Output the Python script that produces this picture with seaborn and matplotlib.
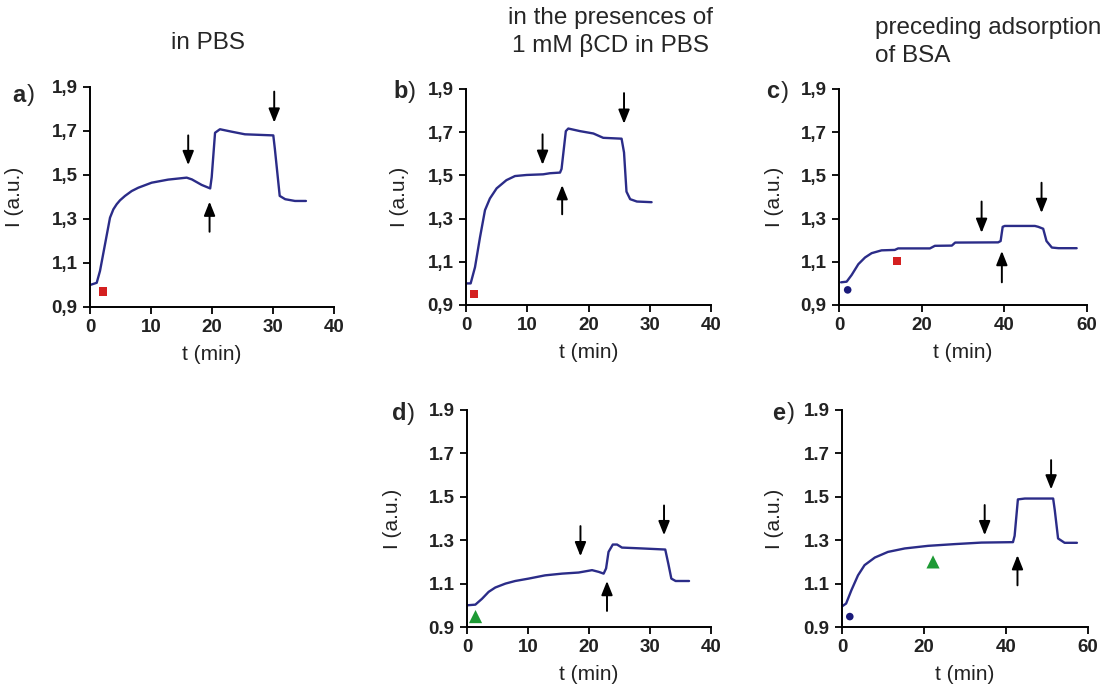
import matplotlib
matplotlib.use("Agg")
import matplotlib.pyplot as plt
from matplotlib.ticker import FuncFormatter
import numpy as np
import pandas as pd
import seaborn as sns

# ---- intensity traces I(t) ----
a_t = [0, 1.1, 1.64, 2.46, 3.28, 3.83, 4.37, 4.92, 5.74, 6.83, 7.9, 10.1, 12.8, 15.85, 16.7, 18.3,
       19.7, 19.95, 20.5, 21.3, 23.2, 25.4, 30.05, 30.3, 31.1, 32.0, 33.6, 35.4]
a_I = [1.0, 1.01, 1.064, 1.185, 1.306, 1.344, 1.367, 1.385, 1.405, 1.427, 1.442, 1.465, 1.479, 1.488,
       1.48, 1.455, 1.439, 1.49, 1.692, 1.708, 1.697, 1.685, 1.68, 1.62, 1.405, 1.39, 1.382, 1.382]

b_t = [0, 0.76, 1.47, 2.29, 3.1, 3.9, 5.0, 6.6, 8.0, 9.9, 12.6, 13.7, 15.35,
       15.6, 16.3, 16.7, 18.6, 20.8, 22.4, 25.4, 25.8, 26.2, 26.8, 27.9, 30.3]
b_I = [1.0, 1.0, 1.075, 1.214, 1.339, 1.393, 1.44, 1.478, 1.497, 1.502, 1.505, 1.51, 1.513,
       1.53, 1.705, 1.717, 1.705, 1.694, 1.674, 1.67, 1.606, 1.425, 1.39, 1.379, 1.376]

c_t = [0.5, 1.85, 3.06, 4.68, 6.3, 7.9, 10.3, 13.5, 14.3, 18.4, 22.0, 23.2, 27.3, 28.1,
       38.5, 39.1, 39.6, 40.1, 47.4, 48.2, 49.4, 50.2, 51.5, 53.1, 57.5]
c_I = [1.005, 1.008, 1.039, 1.089, 1.12, 1.14, 1.153, 1.155, 1.162, 1.162, 1.162, 1.174, 1.175, 1.189,
       1.19, 1.196, 1.262, 1.266, 1.266, 1.262, 1.253, 1.196, 1.166, 1.163, 1.163]

d_t = [0, 1.37, 2.46, 3.55, 4.64, 6.3, 7.9, 10.1, 12.8, 15.6, 18.3, 20.5, 21.6, 22.4,
       22.8, 23.2, 23.9, 24.6, 25.4, 28.7, 32.5, 33.0, 33.5, 34.2, 36.4]
d_I = [1.0, 1.003, 1.03, 1.062, 1.082, 1.1, 1.112, 1.123, 1.138, 1.146, 1.151, 1.162, 1.154, 1.146,
       1.17, 1.246, 1.28, 1.28, 1.266, 1.262, 1.257, 1.192, 1.123, 1.112, 1.112]

e_t = [0, 1.0, 2.28, 3.9, 5.5, 8.0, 11.2, 15.3, 21.0, 27.5, 34.0, 41.7,
       42.1, 42.9, 44.6, 51.5, 51.9, 52.7, 54.3, 57.3]
e_I = [0.995, 1.008, 1.069, 1.138, 1.185, 1.22, 1.246, 1.262, 1.274, 1.282, 1.289, 1.291,
       1.32, 1.488, 1.492, 1.492, 1.438, 1.308, 1.288, 1.288]

# ---- symbols (t, I) ----
square_pts = {"a": [(2.1, 0.97)], "b": [(1.3, 0.95)], "c": [(14.1, 1.105)]}
circle_pts = {"c": [(2.1, 0.97)], "e": [(1.9, 0.948)]}
triangle_pts = {"d": [(1.4, 0.948)], "e": [(22.2, 1.2)]}

# ---- arrows: (t, tail I, head I) ----
arrows = {
    "a": [(16.1, 1.68, 1.545), (19.6, 1.242, 1.379), (30.2, 1.879, 1.738)],
    "b": [(12.5, 1.69, 1.549), (15.7, 1.32, 1.455), (25.8, 1.881, 1.739)],
    "c": [(34.5, 1.379, 1.234), (39.4, 1.005, 1.15), (49.0, 1.466, 1.326)],
    "d": [(18.6, 1.365, 1.226), (22.95, 0.974, 1.112), (32.3, 1.46, 1.323)],
    "e": [(34.8, 1.462, 1.323), (42.8, 1.092, 1.231), (51.0, 1.669, 1.534)],
}

traces = {"a": (a_t, a_I), "b": (b_t, b_I), "c": (c_t, c_I), "d": (d_t, d_I), "e": (e_t, e_I)}
x_ranges = {"a": 40, "b": 40, "c": 60, "d": 40, "e": 60}
comma_decimal = {"a": True, "b": True, "c": True, "d": False, "e": False}
yticks = [0.9, 1.1, 1.3, 1.5, 1.7, 1.9]

sns.set_style("ticks")
plt.rcParams["font.family"] = ["Liberation Sans", "DejaVu Sans"]

W, H = 1107, 692
fig = plt.figure(figsize=(W / 100, H / 100), dpi=100)

# axes boxes in pixels: left, top, right, bottom
boxes = {
    "a": (90, 87, 334, 307),
    "b": (466, 89, 711, 305),
    "c": (839, 89, 1087, 305),
    "d": (467, 410, 711, 627),
    "e": (842, 410, 1088, 627),
}
ylabel_x = {"a": 24, "b": 409, "c": 784, "d": 402, "e": 784}
panel_xy = {"a": (12, 95), "b": (393, 92), "c": (766, 92), "d": (392, 414), "e": (772, 413)}

line_color = "#2B2C88"

for key, (l, t, r, b) in boxes.items():
    ax = fig.add_axes([l / W, 1 - b / H, (r - l) / W, (b - t) / H])
    tt, ii = traces[key]
    df = pd.DataFrame({"t": tt, "I": ii})
    sns.lineplot(data=df, x="t", y="I", ax=ax, color=line_color, lw=1.7, sort=False,
                 estimator=None)
    for (x, y) in square_pts.get(key, []):
        sns.scatterplot(x=[x], y=[y], ax=ax, marker="s", s=36, color="#D42020",
                        edgecolor="none", zorder=5)
    for (x, y) in circle_pts.get(key, []):
        sns.scatterplot(x=[x], y=[y], ax=ax, marker="o", s=30, color="#1A1A7A",
                        edgecolor="none", zorder=5)
    for (x, y) in triangle_pts.get(key, []):
        sns.scatterplot(x=[x], y=[y], ax=ax, marker="^", s=90, color="#1E9A35",
                        edgecolor="none", zorder=5)
    for (x, y0, y1) in arrows[key]:
        ax.annotate("", xy=(x, y1), xytext=(x, y0),
                    arrowprops=dict(arrowstyle="-|>,head_length=0.7,head_width=0.28",
                                    color="black", lw=1.4, shrinkA=0, shrinkB=0,
                                    mutation_scale=12))
    xmax = x_ranges[key]
    ax.set_xlim(0, xmax)
    ax.set_ylim(0.9, 1.9)
    ax.set_xticks(np.arange(0, xmax + 1, 10 if xmax == 40 else 20))
    ax.set_yticks(yticks)
    if comma_decimal[key]:
        ax.yaxis.set_major_formatter(FuncFormatter(lambda v, p: f"{v:.1f}".replace(".", ",")))
    else:
        ax.yaxis.set_major_formatter(FuncFormatter(lambda v, p: f"{v:.1f}"))
    for lab in ax.get_xticklabels() + ax.get_yticklabels():
        lab.set_fontweight("bold")
        lab.set_fontsize(13.5)
        lab.set_color("#222222")
    ax.tick_params(direction="out", length=5, width=1.3, color="black", pad=4)
    for s in ("left", "bottom"):
        ax.spines[s].set_linewidth(1.4)
        ax.spines[s].set_color("black")
    sns.despine(ax=ax)
    ax.set_xlabel("t (min)", fontsize=15, color="#222222")
    ax.set_ylabel("I (a.u.)", fontsize=15, color="#222222")
    ax.xaxis.set_label_coords(0.5, -0.175)
    ax.yaxis.set_label_coords((ylabel_x[key] - l) / (r - l), 0.5)
    ax.patch.set_alpha(0)

    px, py = panel_xy[key]
    fig.text(px / W, 1 - py / H, key, fontsize=17, fontweight="bold", ha="left", va="center")
    fig.text((px + 15) / W, 1 - py / H, ")", fontsize=17, ha="left", va="center")

fig.text(208 / W, 1 - 43 / H, "in PBS", fontsize=17.5, ha="center", va="center")
fig.text(611 / W, 1 - 32 / H, "in the presences of\n1 mM βCD in PBS", fontsize=17.5,
         ha="center", va="center", linespacing=1.3)
fig.text(875 / W, 1 - 42 / H, "preceding adsorption\nof BSA", fontsize=17.5,
         ha="left", va="center", linespacing=1.3)

fig.savefig("out.png", dpi=100)
